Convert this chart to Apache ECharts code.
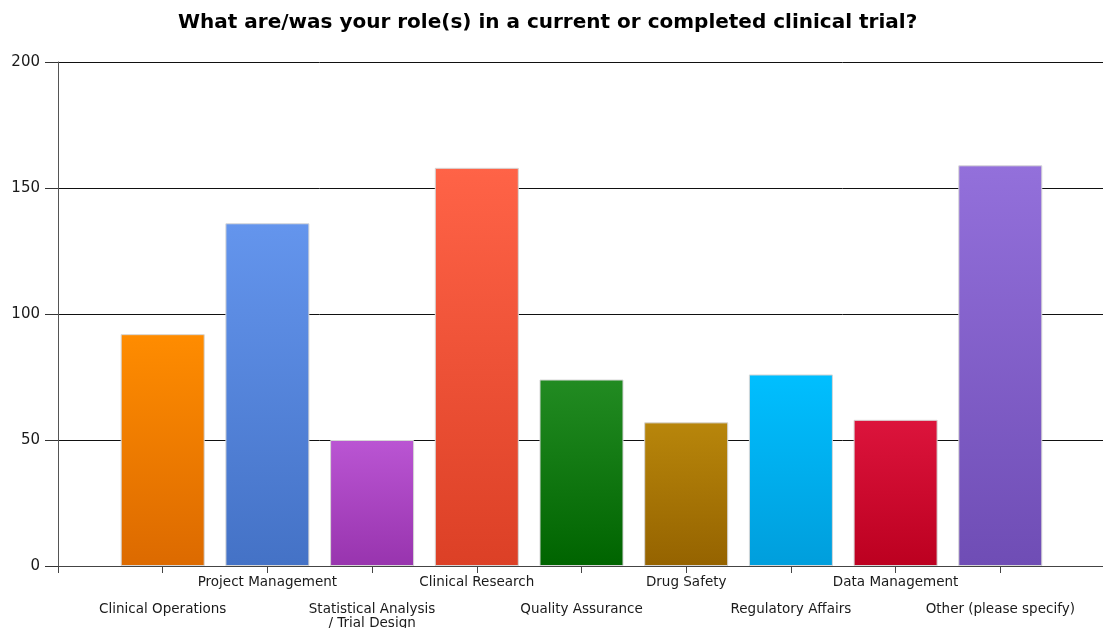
<!DOCTYPE html>
<html>
<head>
<meta charset="utf-8">
<script src="https://cdn.jsdelivr.net/npm/echarts@6/dist/echarts.min.js"></script>
<style>
html,body{margin:0;padding:0;background:#fff;}
#chart{width:1103px;height:628px;}
</style>
</head>
<body>
<div id="chart"></div>
<script>
const title = 'What are/was your role(s) in a current or completed clinical trial?';
const categories = [
  'Clinical Operations',
  'Project Management',
  'Statistical Analysis\n/ Trial Design',
  'Clinical Research',
  'Quality Assurance',
  'Drug Safety',
  'Regulatory Affairs',
  'Data Management',
  'Other (please specify)'
];
const counts = [92, 136, 50, 158, 74, 57, 76, 58, 159];
const yTicks = [0, 50, 100, 150, 200];

const topColors = ['#FF8C00','#6495ED','#BA55D3','#FF6347','#228B22','#B8860B','#00BFFF','#DC143C','#9370DB'];
const bottomColors = ['#DC6A00','#4472C6','#9834AE','#DC4026','#006400','#956300','#009EDC','#BC0020','#6F4DB5'];

const data = counts.map((v, i) => ({
  value: [i + 1, v],
  itemStyle: {
    color: new echarts.graphic.LinearGradient(0, 0, 0, 1, [
      { offset: 0, color: topColors[i] },
      { offset: 1, color: bottomColors[i] }
    ])
  }
}));

const tickValues = [];
for (let k = 0; k <= categories.length; k++) tickValues.push(k);

const chart = echarts.init(document.getElementById('chart'), null, { renderer: 'canvas' });
chart.setOption({
  animation: false,
  backgroundColor: '#ffffff',
  title: {
    text: title,
    left: 173,
    top: 8,
    textStyle: { fontFamily: 'DejaVu Sans', fontWeight: 'bold', fontSize: 20, color: '#000' }
  },
  grid: { left: 58, right: -2, top: 62, bottom: 62, containLabel: false, outerBoundsMode: 'none' },
  xAxis: {
    type: 'value',
    min: 0,
    max: categories.length + 1,
    interval: 1,
    splitLine: { show: false },
    axisLine: { show: true, lineStyle: { color: '#444', width: 1 } },
    axisTick: { show: true, length: 7, customValues: tickValues, lineStyle: { color: '#444' } },
    axisLabel: {
      margin: 9,
      showMinLabel: true,
      showMaxLabel: true,
      formatter: function (v) {
        const i = Math.round(v) - 1;
        if (i < 0 || i >= categories.length) return '';
        const lines = categories[i].split('\n').map(l => '{r|' + l + '}');
        if (i % 2 === 1) return lines.join('\n');
        return '{g| }\n' + lines.join('\n');
      },
      rich: {
        r: { fontFamily: 'DejaVu Sans', fontSize: 13.5, lineHeight: 14, color: '#1a1a1a' },
        g: { fontSize: 12, lineHeight: 27 }
      }
    }
  },
  yAxis: {
    type: 'value',
    min: yTicks[0],
    max: yTicks[yTicks.length - 1],
    interval: 50,
    axisLine: { show: true, lineStyle: { color: '#555', width: 1 } },
    axisTick: { show: true, length: 13, lineStyle: { color: '#333' } },
    splitLine: { show: true, lineStyle: { color: '#111', width: 1 } },
    axisLabel: { margin: 18, fontFamily: 'DejaVu Sans', fontSize: 15, color: '#1a1a1a' }
  },
  series: [{
    type: 'bar',
    barWidth: 84,
    data: data,
    itemStyle: { borderColor: '#d6d6d6', borderWidth: 1 }
  }]
});
</script>
</body>
</html>
